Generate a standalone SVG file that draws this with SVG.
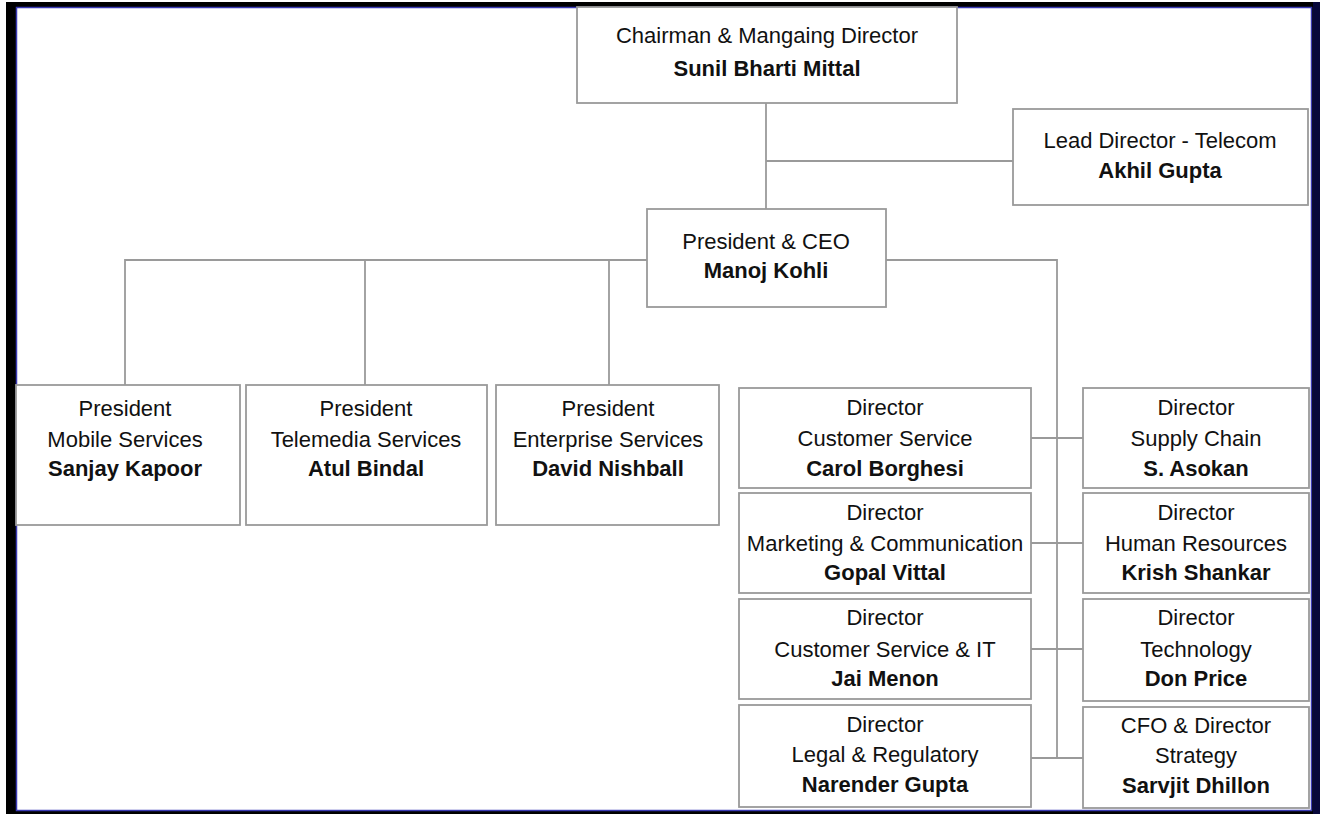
<svg xmlns="http://www.w3.org/2000/svg" width="1320" height="814" viewBox="0 0 1320 814">
<style>
.box{fill:#fff;stroke:#9a9a9a;stroke-width:1.8}
.t{font-family:"Liberation Sans",Arial,sans-serif;font-size:22px;fill:#111;text-anchor:middle}
.b{font-weight:bold}
.c{fill:none;stroke:#9a9a9a;stroke-width:1.8}
</style>
<rect x="0" y="0" width="1320" height="814" fill="#fff"/>
<rect x="6" y="2" width="1314" height="812" fill="#000"/>
<rect x="1313" y="2" width="7" height="812" fill="#07073a"/>
<rect x="16.5" y="7.5" width="1295" height="803" fill="#fff" stroke="#3a3ab4" stroke-width="1.5"/>
<g id="connectors">
<path class="c" d="M766 103V209"/>
<path class="c" d="M766 161H1013"/>
<path class="c" d="M647 260H125V385"/>
<path class="c" d="M365 260V385"/>
<path class="c" d="M609 260V385"/>
<path class="c" d="M886 260H1057V758"/>
<path class="c" d="M1031 438H1083"/>
<path class="c" d="M1031 543H1083"/>
<path class="c" d="M1031 649H1083"/>
<path class="c" d="M1031 758H1083"/>
</g>
<g id="chairman">
<rect class="box" x="577" y="7" width="380" height="96"/>
<text class="t" x="767" y="43">Chairman &amp; Mangaing Director</text>
<text class="t b" x="767" y="76">Sunil Bharti Mittal</text>
</g>
<g id="lead-director">
<rect class="box" x="1013" y="109" width="295" height="96"/>
<text class="t" x="1160" y="148">Lead Director - Telecom</text>
<text class="t b" x="1160" y="178">Akhil Gupta</text>
</g>
<g id="ceo">
<rect class="box" x="647" y="209" width="239" height="98"/>
<text class="t" x="766" y="249">President &amp; CEO</text>
<text class="t b" x="766" y="278">Manoj Kohli</text>
</g>
<g id="pres-mobile">
<rect class="box" x="16" y="385" width="224" height="140"/>
<text class="t" x="125" y="416">President</text>
<text class="t" x="125" y="447">Mobile Services</text>
<text class="t b" x="125" y="476">Sanjay Kapoor</text>
</g>
<g id="pres-telemedia">
<rect class="box" x="246" y="385" width="241" height="140"/>
<text class="t" x="366" y="416">President</text>
<text class="t" x="366" y="447">Telemedia Services</text>
<text class="t b" x="366" y="476">Atul Bindal</text>
</g>
<g id="pres-enterprise">
<rect class="box" x="496" y="385" width="223" height="140"/>
<text class="t" x="608" y="416">President</text>
<text class="t" x="608" y="447">Enterprise Services</text>
<text class="t b" x="608" y="476">David Nishball</text>
</g>
<g id="dir-customer-service">
<rect class="box" x="739" y="388" width="292" height="100"/>
<text class="t" x="885" y="415">Director</text>
<text class="t" x="885" y="446">Customer Service</text>
<text class="t b" x="885" y="476">Carol Borghesi</text>
</g>
<g id="dir-marketing">
<rect class="box" x="739" y="493" width="292" height="100"/>
<text class="t" x="885" y="520">Director</text>
<text class="t" x="885" y="551">Marketing &amp; Communication</text>
<text class="t b" x="885" y="580">Gopal Vittal</text>
</g>
<g id="dir-cs-it">
<rect class="box" x="739" y="599" width="292" height="100"/>
<text class="t" x="885" y="625">Director</text>
<text class="t" x="885" y="657">Customer Service &amp; IT</text>
<text class="t b" x="885" y="686">Jai Menon</text>
</g>
<g id="dir-legal">
<rect class="box" x="739" y="705" width="292" height="102"/>
<text class="t" x="885" y="732">Director</text>
<text class="t" x="885" y="762">Legal &amp; Regulatory</text>
<text class="t b" x="885" y="792">Narender Gupta</text>
</g>
<g id="dir-supply-chain">
<rect class="box" x="1083" y="388" width="226" height="100"/>
<text class="t" x="1196" y="415">Director</text>
<text class="t" x="1196" y="446">Supply Chain</text>
<text class="t b" x="1196" y="476">S. Asokan</text>
</g>
<g id="dir-hr">
<rect class="box" x="1083" y="493" width="226" height="100"/>
<text class="t" x="1196" y="520">Director</text>
<text class="t" x="1196" y="551">Human Resources</text>
<text class="t b" x="1196" y="580">Krish Shankar</text>
</g>
<g id="dir-technology">
<rect class="box" x="1083" y="599" width="226" height="102"/>
<text class="t" x="1196" y="625">Director</text>
<text class="t" x="1196" y="657">Technology</text>
<text class="t b" x="1196" y="686">Don Price</text>
</g>
<g id="cfo">
<rect class="box" x="1083" y="707" width="226" height="101"/>
<text class="t" x="1196" y="733">CFO &amp; Director</text>
<text class="t" x="1196" y="763">Strategy</text>
<text class="t b" x="1196" y="793">Sarvjit Dhillon</text>
</g>
</svg>
